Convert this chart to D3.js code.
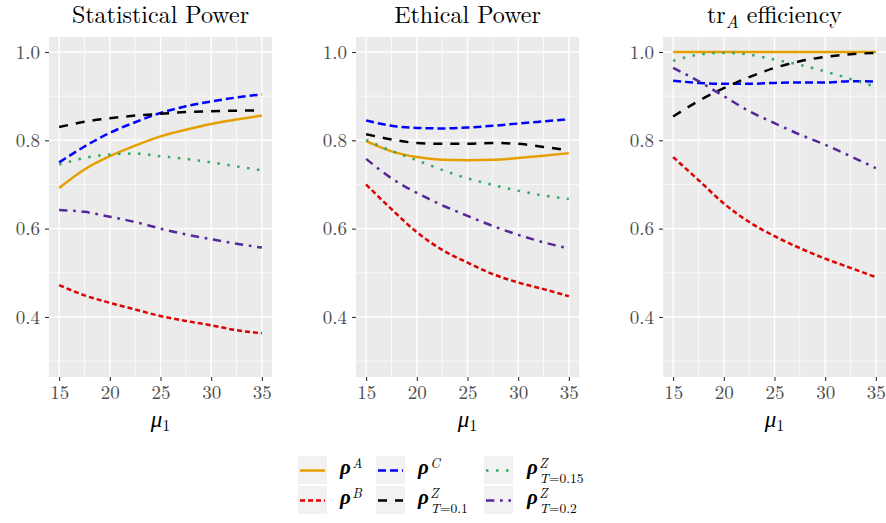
<!DOCTYPE html>
<html>
<head>
<meta charset="utf-8">
<script src="https://cdn.jsdelivr.net/npm/d3@7"></script>
<style>
  html, body { margin: 0; padding: 0; background: #ffffff; }
  svg { display: block; }
</style>
</head>
<body>
<svg id="chart" width="886" height="523"></svg>
<script>
// ---------------- DATA ----------------
const mu1 = [15, 17.5, 20, 22.5, 25, 27.5, 30, 32.5, 35];
const panelTitles = ["Statistical Power", "Ethical Power", "tr_A efficiency"];
const xTicks = [15, 20, 25, 30, 35];
const xMinor = [17.5, 22.5, 27.5, 32.5];
const yTicks = [0.4, 0.6, 0.8, 1.0];
const yMinor = [0.3, 0.5, 0.7, 0.9];

// Statistical Power
const statRhoA   = [0.692, 0.734, 0.764, 0.788, 0.809, 0.824, 0.837, 0.847, 0.856];
const statRhoB   = [0.472, 0.449, 0.432, 0.417, 0.402, 0.391, 0.381, 0.370, 0.363];
const statRhoC   = [0.750, 0.786, 0.817, 0.841, 0.862, 0.877, 0.888, 0.897, 0.904];
const statZ010   = [0.830, 0.842, 0.850, 0.856, 0.860, 0.864, 0.866, 0.867, 0.868];
const statZ015   = [0.745, 0.760, 0.768, 0.770, 0.764, 0.758, 0.750, 0.741, 0.732];
const statZ020   = [0.642, 0.638, 0.627, 0.615, 0.600, 0.587, 0.576, 0.566, 0.557];

// Ethical Power
const ethRhoA    = [0.798, 0.775, 0.762, 0.756, 0.755, 0.756, 0.760, 0.765, 0.771];
const ethRhoB    = [0.700, 0.644, 0.592, 0.552, 0.523, 0.497, 0.478, 0.463, 0.447];
const ethRhoC    = [0.845, 0.833, 0.828, 0.827, 0.829, 0.833, 0.838, 0.843, 0.848];
const ethZ010    = [0.814, 0.802, 0.794, 0.792, 0.792, 0.794, 0.792, 0.785, 0.777];
const ethZ015    = [0.801, 0.776, 0.755, 0.733, 0.714, 0.699, 0.686, 0.675, 0.667];
const ethZ020    = [0.758, 0.714, 0.681, 0.653, 0.629, 0.606, 0.586, 0.569, 0.555];

// tr_A efficiency
const effRhoA    = [1.000, 1.000, 1.000, 1.000, 1.000, 1.000, 1.000, 1.000, 1.000];
const effRhoB    = [0.762, 0.710, 0.657, 0.615, 0.583, 0.556, 0.532, 0.511, 0.490];
const effRhoC    = [0.935, 0.930, 0.928, 0.928, 0.930, 0.931, 0.931, 0.934, 0.933];
const effZ010    = [0.854, 0.889, 0.918, 0.943, 0.964, 0.979, 0.989, 0.995, 0.998];
const effZ015    = [0.980, 0.994, 0.998, 0.994, 0.983, 0.971, 0.956, 0.939, 0.921];
const effZ020    = [0.964, 0.934, 0.900, 0.866, 0.839, 0.813, 0.790, 0.764, 0.737];

const seriesKeys = ["rhoA", "rhoB", "rhoC", "z010", "z015", "z020"];
const panelData = [
  { rhoA: statRhoA, rhoB: statRhoB, rhoC: statRhoC, z010: statZ010, z015: statZ015, z020: statZ020 },
  { rhoA: ethRhoA,  rhoB: ethRhoB,  rhoC: ethRhoC,  z010: ethZ010,  z015: ethZ015,  z020: ethZ020 },
  { rhoA: effRhoA,  rhoB: effRhoB,  rhoC: effRhoC,  z010: effZ010,  z015: effZ015,  z020: effZ020 }
];

// ---------------- STYLE ----------------
const style = {
  rhoA: { color: "#E69F00", dash: null,          sup: "A", sub: null },
  rhoB: { color: "#DD0000", dash: "5,3",         sup: "B", sub: null },
  rhoC: { color: "#0000FF", dash: "8,4",         sup: "C", sub: null },
  z010: { color: "#000000", dash: "9,8",         sup: "Z", sub: "0.1" },
  z015: { color: "#35A865", dash: "2.5,7.5",     sup: "Z", sub: "0.15" },
  z020: { color: "#55289A", dash: "8.3,5.7,2.7,5.7", sup: "Z", sub: "0.2" }
};

const LM = "'Latin Modern Roman', 'Liberation Serif', serif";
const GREEK = "'Liberation Serif', serif";

const svg = d3.select("#chart").style("font-family", LM);
const panelLeft = [49, 356, 663];
const panelW = 223;
const plotTop = 37, plotBottom = 377;

const y = d3.scaleLinear().domain([0.264, 1.034]).range([plotBottom, plotTop]);

panelData.forEach((pd, i) => {
  const x0 = panelLeft[i];
  const x = d3.scaleLinear().domain([14, 36]).range([x0, x0 + panelW]);
  const g = svg.append("g");

  g.append("rect").attr("x", x0).attr("y", plotTop).attr("width", panelW).attr("height", plotBottom - plotTop)
    .attr("fill", "#EBEBEB");

  // minor grid
  g.selectAll(".ym").data(yMinor).join("line")
    .attr("x1", x0).attr("x2", x0 + panelW).attr("y1", d => y(d)).attr("y2", d => y(d))
    .attr("stroke", "#fff").attr("stroke-width", 0.7);
  g.selectAll(".xm").data(xMinor).join("line")
    .attr("y1", plotTop).attr("y2", plotBottom).attr("x1", d => x(d)).attr("x2", d => x(d))
    .attr("stroke", "#fff").attr("stroke-width", 0.7);
  // major grid
  g.selectAll(".yM").data(yTicks).join("line")
    .attr("x1", x0).attr("x2", x0 + panelW).attr("y1", d => y(d)).attr("y2", d => y(d))
    .attr("stroke", "#fff").attr("stroke-width", 1.4);
  g.selectAll(".xM").data(xTicks).join("line")
    .attr("y1", plotTop).attr("y2", plotBottom).attr("x1", d => x(d)).attr("x2", d => x(d))
    .attr("stroke", "#fff").attr("stroke-width", 1.4);

  // axes
  const ax = d3.axisBottom(x).tickValues(xTicks).tickSize(4).tickPadding(5).tickFormat(d3.format("d"));
  const gx = g.append("g").attr("transform", `translate(0,${plotBottom})`).call(ax);
  const ay = d3.axisLeft(y).tickValues(yTicks).tickSize(4).tickPadding(5).tickFormat(d3.format(".1f"));
  const gy = g.append("g").attr("transform", `translate(${x0},0)`).call(ay);
  [gx, gy].forEach(a => {
    a.attr("font-family", null).attr("font-size", null);
    a.select(".domain").remove();
    a.selectAll(".tick line").attr("stroke", "#333").attr("stroke-width", 1.1);
    a.selectAll(".tick text").attr("fill", "#4D4D4D").style("font-size", "19px")
      .style("font-family", LM);
  });

  // lines
  const line = d3.line().x((d, j) => x(mu1[j])).y(d => y(d)).curve(d3.curveMonotoneX);
  seriesKeys.forEach(k => {
    g.append("path").datum(pd[k]).attr("d", line)
      .attr("fill", "none").attr("stroke", style[k].color).attr("stroke-width", 2.5)
      .attr("stroke-dasharray", style[k].dash);
  });

  // title
  const cx = x0 + panelW / 2;
  const t = g.append("text").attr("x", cx).attr("y", 23).attr("text-anchor", "middle")
    .style("font-size", "24px").style("font-family", LM).attr("fill", "#000");
  if (i === 2) {
    t.append("tspan").text("tr");
    t.append("tspan").text("A").attr("font-style", "italic").attr("dy", 5).style("font-size", "17.5px");
    t.append("tspan").text(" efficiency").attr("dy", -5);
  } else {
    t.text(panelTitles[i]);
  }

  // x-axis title
  const xt = g.append("text").attr("x", cx).attr("y", 427).attr("text-anchor", "middle")
    .style("font-size", "23px").attr("fill", "#000");
  xt.append("tspan").text("μ").attr("font-style", "italic").style("font-family", GREEK);
  xt.append("tspan").text("1").attr("dy", 4).style("font-size", "16px").style("font-family", LM);
});

// ---------------- LEGEND ----------------
const legendCols = [[ "rhoA", "rhoB" ], [ "rhoC", "z010" ], [ "z015", "z020" ]];
const keyX = [298, 376, 484];
const labelX = [340, 418, 527];
const rowY = [456, 486];
const keySize = 29;
const lg = svg.append("g");
legendCols.forEach((col, ci) => {
  col.forEach((k, ri) => {
    const kx = keyX[ci], ky = rowY[ri];
    lg.append("rect").attr("x", kx).attr("y", ky).attr("width", keySize).attr("height", keySize - 1)
      .attr("fill", "#F2F2F2");
    lg.append("line").attr("x1", kx + 2).attr("x2", kx + keySize - 2)
      .attr("y1", ky + keySize / 2).attr("y2", ky + keySize / 2)
      .attr("stroke", style[k].color).attr("stroke-width", 2.5)
      .attr("stroke-dasharray", style[k].dash);
    const lx = labelX[ci], base = ky + 18;
    const rho = lg.append("text").attr("x", lx).attr("y", base)
      .style("font-size", "21px").style("font-family", GREEK)
      .attr("font-style", "italic").attr("font-weight", "bold")
      .text("ρ");
    const rw = rho.node().getComputedTextLength();
    lg.append("text").attr("x", lx + rw + 1.5).attr("y", base - 6)
      .style("font-size", "13.5px").style("font-family", LM).attr("font-style", "italic").text(style[k].sup);
    if (style[k].sub) {
      const st = lg.append("text").attr("x", lx + rw + 1.5).attr("y", base + 9)
        .style("font-size", "13.5px").style("font-family", LM);
      st.append("tspan").attr("font-style", "italic").text("T");
      st.append("tspan").text("=" + style[k].sub);
    }
  });
});
</script>
</body>
</html>
